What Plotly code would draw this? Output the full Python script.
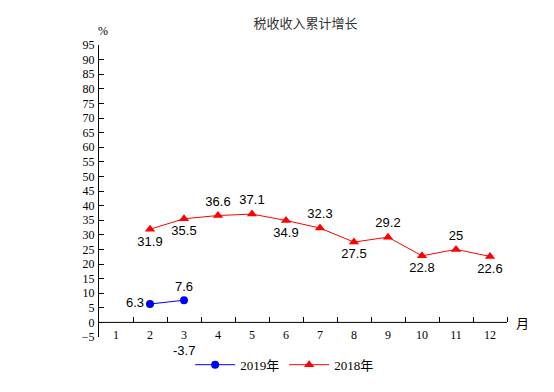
import plotly.graph_objects as go

months = list(range(1, 13))
month_labels = [str(m) for m in months]
x2019 = [2, 3]
y2019 = [6.3, 7.6]
pos2019 = ["middle left", "top center"]
x2019_extra = [3]
y2019_extra = [-3.7]
x2018 = [2, 3, 4, 5, 6, 7, 8, 9, 10, 11, 12]
y2018 = [31.9, 35.5, 36.6, 37.1, 34.9, 32.3, 27.5, 29.2, 22.8, 25, 22.6]
pos2018 = ["bottom center", "bottom center", "top center", "top center", "bottom center",
           "top center", "bottom center", "top center", "bottom center", "top center", "bottom center"]
yticks = list(range(-5, 100, 5))

SERIF = "Liberation Serif"
SANS = "Liberation Sans"
CJK = "Noto Sans CJK SC"

fig = go.Figure()
fig.add_trace(go.Scatter(
    x=x2019, y=y2019, mode="lines+markers+text", name="2019年",
    line=dict(color="#0000FF", width=1), marker=dict(color="#0000FF", size=8, symbol="circle"),
    text=[str(v) for v in y2019], textposition=pos2019,
    textfont=dict(family=SANS, size=13, color="black"), cliponaxis=False))
fig.add_trace(go.Scatter(
    x=x2018, y=y2018, mode="lines+markers+text", name="2018年",
    line=dict(color="#FF0000", width=1), marker=dict(color="#FF0000", size=9, symbol="triangle-up"),
    text=[f"{v:g}" for v in y2018], textposition=pos2018,
    textfont=dict(family=SANS, size=13, color="black"), cliponaxis=False))

annotations = [
    dict(text="%", xref="paper", yref="paper", x=0, xshift=4, xanchor="center", y=1.0, yshift=23,
         showarrow=False, font=dict(family=SERIF, size=12, color="black")),
    dict(text="月", xref="paper", yref="y", x=1.0, xshift=24, y=0, yanchor="middle",
         showarrow=False, font=dict(family=CJK, size=13, color="black")),
]
for xv, yv in zip(x2019_extra, y2019_extra):
    annotations.append(dict(text=f"{yv:g}", xref="x", yref="y", x=xv, y=yv, yshift=-17,
                            yanchor="middle", showarrow=False,
                            font=dict(family=SANS, size=13, color="black")))

fig.update_layout(
    width=546, height=384,
    margin=dict(l=91, r=47, t=37, b=55, autoexpand=False),
    paper_bgcolor="white", plot_bgcolor="white",
    title=dict(text="税收收入累计增长", x=0.545, xanchor="center", y=0.961, yanchor="middle",
               font=dict(family=CJK, size=13, color="#333333")),
    showlegend=True,
    legend=dict(orientation="h", x=0.455, xanchor="center", y=-0.095, yanchor="middle",
                font=dict(family=SERIF + ", " + CJK, size=13, color="black"),
                itemwidth=40, tracegroupgap=0, bgcolor="rgba(0,0,0,0)"),
    xaxis=dict(range=[0.5, 12.5], tickvals=months, ticktext=month_labels, ticks="",
               showgrid=False, zeroline=False, showline=False,
               anchor="free", position=0.05, ticklabelstandoff=4,
               tickfont=dict(family=SERIF, size=12, color="black"),
               minor=dict(tickvals=[m + 0.5 for m in months], ticks="inside", ticklen=5,
                          tickcolor="black", tickwidth=1, showgrid=False)),
    yaxis=dict(range=[-5, 95], tickvals=yticks, ticks="inside", ticklen=5, tickcolor="black",
               showgrid=False, zeroline=False, showline=True, linecolor="black", linewidth=1,
               ticklabelstandoff=1,
               tickfont=dict(family=SERIF, size=12, color="black")),
    shapes=[dict(type="line", xref="x", yref="y", x0=0.5, x1=12.5, y0=0, y1=0,
                 line=dict(color="black", width=1))],
    annotations=annotations,
)
fig.write_html("out.html")
